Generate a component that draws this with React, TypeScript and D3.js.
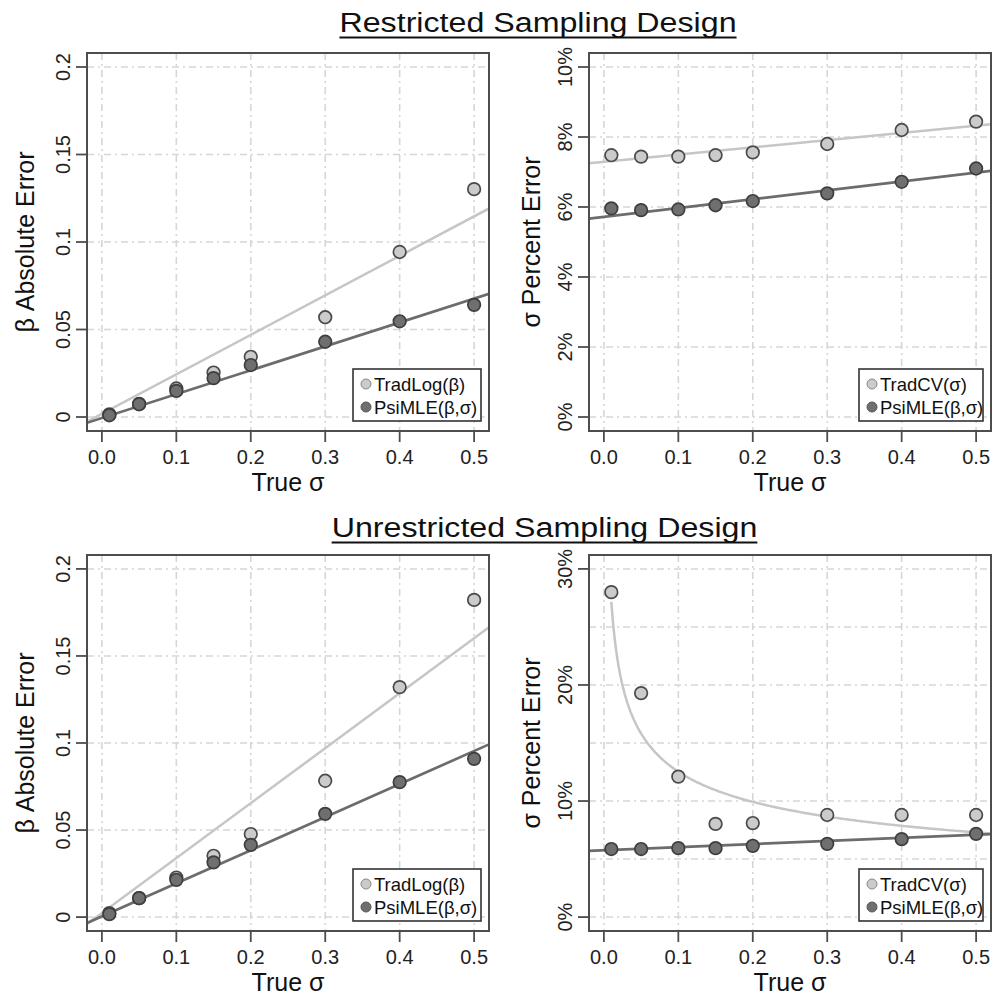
import React, { useEffect, useRef } from "react";
import * as d3 from "d3";

// ---------- data ----------
const trueSigma = [0.01, 0.05, 0.1, 0.15, 0.2, 0.3, 0.4, 0.5];
const xTicks = [0, 0.1, 0.2, 0.3, 0.4, 0.5];
const xTickLabels = ["0.0", "0.1", "0.2", "0.3", "0.4", "0.5"];

const betaTicks = [0, 0.05, 0.1, 0.15, 0.2];
const betaTickLabels = ["0", "0.05", "0.1", "0.15", "0.2"];
const pctTicksR = [0, 2, 4, 6, 8, 10];
const pctTickLabelsR = ["0%", "2%", "4%", "6%", "8%", "10%"];
const pctTicksU = [0, 10, 20, 30];
const pctTickLabelsU = ["0%", "10%", "20%", "30%"];
const pctGridU = [0, 5, 10, 15, 20, 25, 30];

// Restricted design
const tradLogRestricted = [0.0015, 0.0075, 0.0163, 0.0254, 0.0344, 0.057, 0.0943, 0.1302];
const psiBetaRestricted = [0.001, 0.0073, 0.0149, 0.0222, 0.0297, 0.043, 0.0547, 0.0641];
const tradCVRestricted = [7.48, 7.44, 7.44, 7.48, 7.56, 7.8, 8.2, 8.44];
const psiSigmaRestricted = [5.96, 5.91, 5.93, 6.05, 6.17, 6.39, 6.72, 7.1];

// Unrestricted design
const tradLogUnrestricted = [0.0023, 0.0109, 0.0227, 0.0352, 0.0477, 0.0783, 0.1321, 0.1822];
const psiBetaUnrestricted = [0.0017, 0.0109, 0.0214, 0.0314, 0.0415, 0.0593, 0.0775, 0.0909];
const tradCVUnrestricted = [28.0, 19.3, 12.1, 8.03, 8.1, 8.8, 8.8, 8.8];
const psiSigmaUnrestricted = [5.86, 5.86, 5.94, 5.94, 6.14, 6.31, 6.72, 7.17];

// fitted trend lines [intercept, slope]
const fitTradLogR = [0.0018, 0.2257];
const fitPsiBetaR = [-0.0006, 0.1365];
const fitTradCVR = [7.29, 2.07];
const fitPsiSigmaR = [5.72, 2.52];
const fitTradLogU = [0.0023, 0.3157];
const fitPsiBetaU = [0.0004, 0.19];
const fitPsiSigmaU = [5.76, 2.67];
// power fit a * x^b
const fitTradCVUPower = [5.78, -0.336];

const titles = ["Restricted Sampling Design", "Unrestricted Sampling Design"];

// ---------- style ----------
const FONT = "'Liberation Sans', Arial, Helvetica, sans-serif";
const LIGHT_FILL = "#cbcbcb";
const DARK_FILL = "#6f6f6f";
const LIGHT_LINE = "#c6c6c6";
const DARK_LINE = "#6c6c6c";
const GRID = "#d6d6d6";

type Fit = { type: "lin"; p: number[] } | { type: "pow"; p: number[] };

interface Panel {
  left: number;
  top: number;
  right: number;
  bottom: number;
  yDomain: [number, number];
  yTicks: number[];
  yTickLabels: string[];
  yGrid: number[];
  yTitle: string;
  yTitleX: number;
  light: number[];
  dark: number[];
  lightFit: Fit;
  darkFit: Fit;
  legendLight: string;
  legendDark: string;
  legendW: number;
}

const ext = (lo: number, hi: number): [number, number] => {
  const d = (hi - lo) * 0.04;
  return [lo - d, hi + d];
};

const panels: Panel[] = [
  {
    left: 87, top: 53, right: 489, bottom: 431,
    yDomain: ext(0, 0.2), yTicks: betaTicks, yTickLabels: betaTickLabels, yGrid: betaTicks,
    yTitle: "β Absolute Error", yTitleX: 34,
    light: tradLogRestricted, dark: psiBetaRestricted,
    lightFit: { type: "lin", p: fitTradLogR }, darkFit: { type: "lin", p: fitPsiBetaR },
    legendLight: "TradLog(β)", legendDark: "PsiMLE(β,σ)", legendW: 128,
  },
  {
    left: 589, top: 53, right: 991, bottom: 431,
    yDomain: ext(0, 10), yTicks: pctTicksR, yTickLabels: pctTickLabelsR, yGrid: pctTicksR,
    yTitle: "σ Percent Error", yTitleX: 540,
    light: tradCVRestricted, dark: psiSigmaRestricted,
    lightFit: { type: "lin", p: fitTradCVR }, darkFit: { type: "lin", p: fitPsiSigmaR },
    legendLight: "TradCV(σ)", legendDark: "PsiMLE(β,σ)", legendW: 124,
  },
  {
    left: 87, top: 555, right: 489, bottom: 931,
    yDomain: ext(0, 0.2), yTicks: betaTicks, yTickLabels: betaTickLabels, yGrid: betaTicks,
    yTitle: "β Absolute Error", yTitleX: 34,
    light: tradLogUnrestricted, dark: psiBetaUnrestricted,
    lightFit: { type: "lin", p: fitTradLogU }, darkFit: { type: "lin", p: fitPsiBetaU },
    legendLight: "TradLog(β)", legendDark: "PsiMLE(β,σ)", legendW: 128,
  },
  {
    left: 589, top: 555, right: 991, bottom: 931,
    yDomain: ext(0, 30), yTicks: pctTicksU, yTickLabels: pctTickLabelsU, yGrid: pctGridU,
    yTitle: "σ Percent Error", yTitleX: 540,
    light: tradCVUnrestricted, dark: psiSigmaUnrestricted,
    lightFit: { type: "pow", p: fitTradCVUPower }, darkFit: { type: "lin", p: fitPsiSigmaU },
    legendLight: "TradCV(σ)", legendDark: "PsiMLE(β,σ)", legendW: 124,
  },
];

export default function App() {
  const ref = useRef<SVGSVGElement | null>(null);

  useEffect(() => {
    const svg = d3.select(ref.current);
    svg.selectAll("*").remove();
    const xDomain = ext(0, 0.5);

    panels.forEach((p, i) => {
      const g = svg.append("g");
      const x = d3.scaleLinear().domain(xDomain).range([p.left, p.right]);
      const y = d3.scaleLinear().domain(p.yDomain).range([p.bottom, p.top]);
      const clipId = `clip${i}`;
      svg
        .append("clipPath")
        .attr("id", clipId)
        .append("rect")
        .attr("x", p.left)
        .attr("y", p.top)
        .attr("width", p.right - p.left)
        .attr("height", p.bottom - p.top);

      const inner = g.append("g").attr("clip-path", `url(#${clipId})`);
      // grid
      inner
        .selectAll(".vg")
        .data(xTicks)
        .enter()
        .append("line")
        .attr("x1", (d) => x(d))
        .attr("x2", (d) => x(d))
        .attr("y1", p.top)
        .attr("y2", p.bottom)
        .attr("stroke", GRID)
        .attr("stroke-width", 1.6)
        .attr("stroke-dasharray", "7,4,2,4");
      inner
        .selectAll(".hg")
        .data(p.yGrid)
        .enter()
        .append("line")
        .attr("x1", p.left)
        .attr("x2", p.right)
        .attr("y1", (d) => y(d))
        .attr("y2", (d) => y(d))
        .attr("stroke", GRID)
        .attr("stroke-width", 1.6)
        .attr("stroke-dasharray", "7,4,2,4");

      // fits
      const fitPath = (f: Fit) => {
        const line = d3
          .line<number>()
          .x((d) => x(d))
          .y((d) => y(f.type === "lin" ? f.p[0] + f.p[1] * d : f.p[0] * Math.pow(d, f.p[1])));
        const xs = f.type === "lin" ? xDomain : d3.range(0.01, 0.5201, 0.002);
        return line(xs as number[]);
      };
      inner
        .append("path")
        .attr("d", fitPath(p.lightFit))
        .attr("fill", "none")
        .attr("stroke", LIGHT_LINE)
        .attr("stroke-width", 2.5);
      inner
        .append("path")
        .attr("d", fitPath(p.darkFit))
        .attr("fill", "none")
        .attr("stroke", DARK_LINE)
        .attr("stroke-width", 2.7);

      // points
      g.selectAll(".pl")
        .data(p.light)
        .enter()
        .append("circle")
        .attr("cx", (_d, j) => x(trueSigma[j]))
        .attr("cy", (d) => y(d))
        .attr("r", 6.3)
        .attr("fill", LIGHT_FILL)
        .attr("stroke", "#4a4a4a")
        .attr("stroke-width", 1.7);
      g.selectAll(".pd")
        .data(p.dark)
        .enter()
        .append("circle")
        .attr("cx", (_d, j) => x(trueSigma[j]))
        .attr("cy", (d) => y(d))
        .attr("r", 6.3)
        .attr("fill", DARK_FILL)
        .attr("stroke", "#3e3e3e")
        .attr("stroke-width", 1.7);

      // box
      g.append("rect")
        .attr("x", p.left)
        .attr("y", p.top)
        .attr("width", p.right - p.left)
        .attr("height", p.bottom - p.top)
        .attr("fill", "none")
        .attr("stroke", "#4d4d4d")
        .attr("stroke-width", 2);

      // x ticks
      xTicks.forEach((t, k) => {
        g.append("line")
          .attr("x1", x(t))
          .attr("x2", x(t))
          .attr("y1", p.bottom)
          .attr("y2", p.bottom + 11)
          .attr("stroke", "#4d4d4d")
          .attr("stroke-width", 1.8);
        g.append("text")
          .attr("x", x(t))
          .attr("y", p.bottom + 33)
          .attr("text-anchor", "middle")
          .attr("font-family", FONT)
          .attr("font-size", 20)
          .attr("fill", "#222")
          .text(xTickLabels[k]);
      });
      // y ticks
      p.yTicks.forEach((t, k) => {
        g.append("line")
          .attr("x1", p.left - 11)
          .attr("x2", p.left)
          .attr("y1", y(t))
          .attr("y2", y(t))
          .attr("stroke", "#4d4d4d")
          .attr("stroke-width", 1.8);
        g.append("text")
          .attr("transform", `translate(${p.left - 17},${y(t)}) rotate(-90)`)
          .attr("text-anchor", "middle")
          .attr("font-family", FONT)
          .attr("font-size", 20)
          .attr("fill", "#222")
          .text(p.yTickLabels[k]);
      });
      // axis titles
      g.append("text")
        .attr("x", (p.left + p.right) / 2)
        .attr("y", p.bottom + 60)
        .attr("text-anchor", "middle")
        .attr("font-family", FONT)
        .attr("font-size", 25)
        .attr("fill", "#111")
        .text("True σ");
      g.append("text")
        .attr("transform", `translate(${p.yTitleX},${(p.top + p.bottom) / 2}) rotate(-90)`)
        .attr("text-anchor", "middle")
        .attr("font-family", FONT)
        .attr("font-size", 25)
        .attr("fill", "#111")
        .text(p.yTitle);

      // legend
      const lw = p.legendW;
      const lh = 52;
      const lx = p.right - 8 - lw;
      const ly = p.bottom - 10 - lh;
      const lg = g.append("g");
      lg.append("rect")
        .attr("x", lx)
        .attr("y", ly)
        .attr("width", lw)
        .attr("height", lh)
        .attr("fill", "#fff")
        .attr("stroke", "#333")
        .attr("stroke-width", 1.6);
      const rows = [
        { label: p.legendLight, fill: LIGHT_FILL, stroke: "#888" },
        { label: p.legendDark, fill: DARK_FILL, stroke: "#555" },
      ];
      rows.forEach((r, k) => {
        const cy = ly + 15 + k * 23;
        lg.append("circle")
          .attr("cx", lx + 13)
          .attr("cy", cy)
          .attr("r", 5)
          .attr("fill", r.fill)
          .attr("stroke", r.stroke)
          .attr("stroke-width", 1);
        lg.append("text")
          .attr("x", lx + 21)
          .attr("y", cy + 7)
          .attr("font-family", FONT)
          .attr("font-size", 18.5)
          .attr("fill", "#111")
          .text(r.label);
      });
    });

    // titles (slightly wide face in the original: stretch horizontally)
    const titleBase = [32, 537];
    const titleCx = [538, 544.5];
    const stretch = 1.15;
    titles.forEach((t, i) => {
      const tg = svg
        .append("g")
        .attr("transform", `translate(${titleCx[i]},${titleBase[i]}) scale(${stretch},1)`);
      const txt = tg
        .append("text")
        .attr("x", 0)
        .attr("y", 0)
        .attr("text-anchor", "middle")
        .attr("font-family", FONT)
        .attr("font-size", 28)
        .attr("fill", "#111")
        .text(t);
      const bb = (txt.node() as SVGTextElement).getBBox();
      tg.append("line")
        .attr("x1", bb.x)
        .attr("x2", bb.x + bb.width)
        .attr("y1", 5.5)
        .attr("y2", 5.5)
        .attr("stroke", "#111")
        .attr("stroke-width", 2);
    });
  }, []);

  return (
    <svg
      ref={ref}
      width={1002}
      height={998}
      style={{ position: "absolute", left: 0, top: 0, background: "#fff" }}
    />
  );
}
